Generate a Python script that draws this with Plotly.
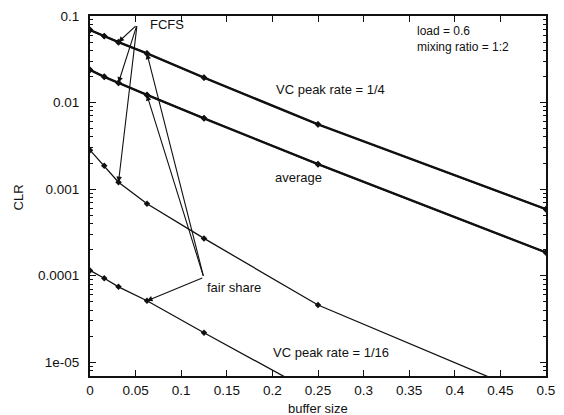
import numpy as np
import plotly.graph_objects as go

# buffer sizes (x)
buffer_size = [0.0, 0.015625, 0.03125, 0.0625, 0.125, 0.25, 0.5]

# log10(CLR)
fcfs_peak_quarter = [-1.16, -1.23, -1.30, -1.43, -1.71, -2.25, -3.23]
fair_peak_quarter = [-1.165, -1.235, -1.305, -1.435, -1.715, -2.255, -3.235]
fcfs_average = [-1.62, -1.70, -1.77, -1.91, -2.18, -2.71, -3.73]
fair_average = [-1.625, -1.705, -1.775, -1.915, -2.185, -2.715, -3.735]
fcfs_peak_sixteenth = [-2.55, -2.73, -2.92, -3.17, -3.57, -4.34, -5.45]
fair_peak_sixteenth = [-3.94, -4.03, -4.13, -4.29, -4.66, -5.38]

x_ticks = [0, 0.05, 0.1, 0.15, 0.2, 0.25, 0.3, 0.35, 0.4, 0.45, 0.5]
x_tick_text = ["0", "0.05", "0.1", "0.15", "0.2", "0.25", "0.3", "0.35", "0.4", "0.45", "0.5"]
y_ticks = [1e-5, 1e-4, 1e-3, 1e-2, 1e-1]
y_tick_text = ["1e-05", "0.0001", "0.001", "0.01", "0.1"]

FONT = "Liberation Sans, Arial, Helvetica, sans-serif"
INK = "#111111"

fig = go.Figure()

series = [
    (fcfs_peak_quarter, 2.0),
    (fair_peak_quarter, 2.0),
    (fcfs_average, 2.0),
    (fair_average, 2.0),
    (fcfs_peak_sixteenth, 1.3),
    (fair_peak_sixteenth, 1.3),
]
for vals, w in series:
    xs = buffer_size[:len(vals)]
    fig.add_trace(go.Scatter(
        x=xs, y=[10 ** v for v in vals], mode="lines+markers",
        line=dict(color=INK, width=w),
        marker=dict(symbol="diamond", size=5, color=INK),
        showlegend=False, cliponaxis=True,
    ))

# arrows
fcfs_tail = (0.0516, -1.10)
fair_tail = (0.1247, -4.02)
arrow_targets = [
    (fcfs_tail, buffer_size[2], fcfs_peak_quarter[2]),
    (fcfs_tail, buffer_size[2], fcfs_average[2]),
    (fcfs_tail, buffer_size[2], fcfs_peak_sixteenth[2]),
    (fair_tail, buffer_size[3], fair_peak_quarter[3]),
    (fair_tail, buffer_size[3], fair_average[3]),
    (fair_tail, buffer_size[3], fair_peak_sixteenth[3]),
]
for (tx, ty), hx, hy in arrow_targets:
    fig.add_annotation(
        x=hx, y=hy, ax=tx, ay=ty, xref="x", yref="y", axref="x", ayref="y",
        text="", showarrow=True, arrowhead=2, arrowsize=1.0, arrowwidth=1.1,
        arrowcolor=INK, standoff=0, startstandoff=0,
    )

labels = [
    ("FCFS", 0.064, -1.10),
    ("VC peak rate = 1/4", 0.202, -1.855),
    ("average", 0.201, -2.87),
    ("fair share", 0.1266, -4.133),
    ("VC peak rate = 1/16", 0.199, -4.884),
]
for t, x, y in labels:
    fig.add_annotation(x=x, y=y, xref="x", yref="y", text=t, showarrow=False,
                       xanchor="left", yanchor="middle",
                       font=dict(family=FONT, size=13, color=INK))

fig.add_annotation(x=0.356, y=-1.27, xref="x", yref="y",
                   text="load = 0.6<br>mixing ratio = 1:2", showarrow=False,
                   xanchor="left", yanchor="middle", align="left",
                   font=dict(family=FONT, size=12, color=INK))

fig.add_annotation(x=0.5, y=-0.089, xref="paper", yref="paper", text="buffer size",
                   showarrow=False, xanchor="center", yanchor="middle",
                   font=dict(family=FONT, size=13, color=INK))
fig.add_annotation(x=-0.157, y=0.497, xref="paper", yref="paper", text="CLR",
                   showarrow=False, textangle=-90, xanchor="center", yanchor="middle",
                   font=dict(family=FONT, size=13, color=INK))

minor_vals = [m * 10.0 ** e for e in range(-6, -1) for m in range(2, 10)]

fig.update_xaxes(
    range=[0, 0.5], tickmode="array", tickvals=x_ticks, ticktext=x_tick_text,
    ticks="inside", ticklen=6, tickwidth=1.2, tickcolor=INK,
    showline=True, linecolor=INK, linewidth=2, mirror="ticks",
    showgrid=False, zeroline=False, ticklabelstandoff=1,
    tickfont=dict(family=FONT, size=13.5, color=INK),
)
fig.update_yaxes(
    type="log", range=[-5.16, -1.0], tickmode="array", tickvals=y_ticks, ticktext=y_tick_text,
    ticks="inside", ticklen=6, tickwidth=1.2, tickcolor=INK,
    minor=dict(tickmode="array", tickvals=minor_vals, ticks="inside", ticklen=3,
               tickwidth=1, tickcolor=INK, showgrid=False),
    showline=True, linecolor=INK, linewidth=2, mirror="ticks",
    showgrid=False, zeroline=False, ticklabelstandoff=6,
    tickfont=dict(family=FONT, size=13.5, color=INK),
)

fig.update_layout(
    width=564, height=415,
    margin=dict(l=90, r=9, t=16, b=39),
    paper_bgcolor="white", plot_bgcolor="white",
    showlegend=False,
)

fig.write_html("out.html", config={"displayModeBar": False},
               post_script="document.body.style.margin='0';document.body.style.padding='0';")
